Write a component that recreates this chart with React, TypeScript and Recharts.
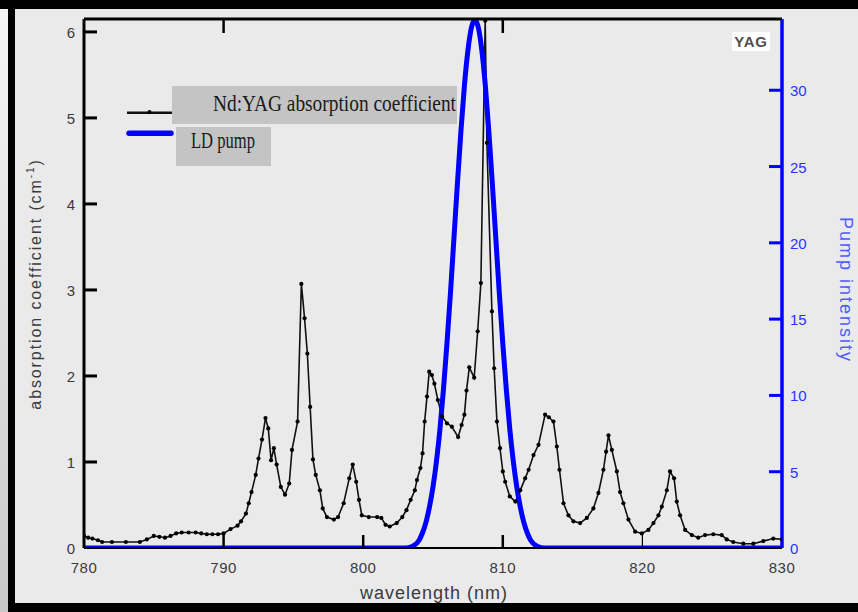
import React from 'react';
import { ComposedChart, Line, XAxis, YAxis } from 'recharts';

// Nd:YAG absorption coefficient (cm^-1) vs wavelength (nm)
const absWavelength = [
  780.0, 780.3, 780.6, 781.0, 781.3, 782.0, 783.0, 784.0, 784.5, 785.0,
  785.4, 785.8, 786.2, 786.6, 787.0, 787.5, 788.0, 788.4, 788.8, 789.2,
  789.6, 790.0, 790.5, 791.0, 791.25, 791.6, 791.8, 792.0, 792.3, 792.5,
  792.75, 793.0, 793.2, 793.4, 793.6, 793.8, 794.1, 794.4, 794.7, 794.9,
  795.3, 795.57, 795.8, 796.0, 796.2, 796.4, 796.6, 796.9, 797.1, 797.4,
  797.9, 798.2, 798.6, 799.0, 799.25, 799.5, 799.7, 799.9, 800.4, 801.0,
  801.3, 801.6, 801.9, 802.4, 802.8, 803.1, 803.4, 803.7, 803.85, 804.1,
  804.25, 804.4, 804.57, 804.73, 804.92, 805.1, 805.35, 805.65, 806.0, 806.35,
  806.8, 807.05, 807.25, 807.4, 807.6, 807.95, 808.2, 808.43, 808.74, 808.86,
  809.22, 809.38, 809.58, 809.8, 810.0, 810.17, 810.5, 810.9, 811.25, 811.6,
  811.85, 812.2, 812.56, 813.03, 813.3, 813.63, 813.87, 814.06, 814.35, 814.7,
  815.06, 815.54, 816.02, 816.49, 816.85, 817.21, 817.4, 817.57, 817.81, 818.17,
  818.4, 818.64, 819.0, 819.48, 819.96, 820.43, 820.79, 821.15, 821.39, 821.75,
  821.98, 822.27, 822.46, 822.7, 823.06, 823.54, 824.0, 824.49, 825.08, 825.68,
  826.04, 826.51, 827.23, 827.95, 828.66, 829.38, 830.0,
];
const absCoefficient = [
  0.14, 0.12, 0.11, 0.09, 0.07, 0.07, 0.07, 0.07, 0.10, 0.14,
  0.13, 0.12, 0.14, 0.17, 0.18, 0.18, 0.18, 0.17, 0.16, 0.16,
  0.16, 0.17, 0.22, 0.26, 0.31, 0.40, 0.52, 0.65, 0.85, 1.04,
  1.26, 1.51, 1.39, 1.02, 1.16, 0.97, 0.71, 0.62, 0.75, 1.14,
  1.47, 3.07, 2.67, 2.26, 1.64, 1.03, 0.85, 0.67, 0.46, 0.36,
  0.33, 0.36, 0.52, 0.81, 0.97, 0.77, 0.56, 0.38, 0.36, 0.36,
  0.35, 0.27, 0.25, 0.29, 0.36, 0.44, 0.56, 0.67, 0.79, 0.93,
  1.10, 1.47, 1.76, 2.05, 2.01, 1.91, 1.72, 1.53, 1.45, 1.41,
  1.29, 1.43, 1.55, 1.83, 2.10, 1.98, 2.52, 3.08, 6.13, 4.71,
  2.75, 2.09, 1.47, 1.16, 0.89, 0.77, 0.60, 0.54, 0.67, 0.81,
  0.91, 1.08, 1.20, 1.55, 1.52, 1.47, 1.18, 0.91, 0.52, 0.38,
  0.31, 0.29, 0.35, 0.46, 0.64, 0.91, 1.12, 1.31, 1.14, 0.89,
  0.65, 0.52, 0.33, 0.19, 0.17, 0.21, 0.29, 0.38, 0.48, 0.67,
  0.89, 0.81, 0.54, 0.38, 0.21, 0.15, 0.12, 0.15, 0.16, 0.15,
  0.10, 0.07, 0.05, 0.05, 0.08, 0.11, 0.10,
];

// LD pump intensity vs wavelength (nm)
const pumpWavelength = [
  780, 803.0, 803.5, 804.0, 804.25, 804.5, 804.75, 805.0, 805.25, 805.5,
  805.75, 806.0, 806.25, 806.5, 806.75, 807.0, 807.25, 807.5, 807.75, 808.0,
  808.25, 808.5, 808.75, 809.0, 809.25, 809.5, 809.75, 810.0, 810.25, 810.5,
  810.75, 811.0, 811.25, 811.5, 811.75, 812.0, 812.5, 813.0, 830,
];
const pumpIntensity = [
  0, 0, 0.1, 0.5, 1.0, 1.7, 2.7, 4.0, 5.7, 7.8,
  10.4, 13.4, 16.7, 20.3, 23.9, 27.3, 30.3, 32.6, 34.1, 34.6,
  34.1, 32.6, 30.3, 27.3, 23.9, 20.3, 16.7, 13.4, 10.4, 7.8,
  5.7, 4.0, 2.7, 1.7, 1.0, 0.5, 0.1, 0, 0,
];

const xTicks = [780, 790, 800, 810, 820, 830];
const topTicks = [790, 810];
const leftTicks = [0, 1, 2, 3, 4, 5, 6];
const rightTicks = [0, 5, 10, 15, 20, 25, 30];

const absData = absWavelength.map((x, i) => ({ x, abs: absCoefficient[i] }));
const pumpData = pumpWavelength.map((x, i) => ({ x, pump: pumpIntensity[i] }));

const SANS = '"Liberation Sans", Arial, sans-serif';
const SERIF = '"Liberation Serif", "Times New Roman", serif';

const BottomTick = (props: any) => {
  const { x, y, payload } = props;
  const v = payload.value;
  const inner = v > 780 && v < 830;
  return (
    <g>
      {inner && (
        <line x1={x} x2={x} y1={y} y2={y - 13} stroke="#000" strokeWidth={v === 820 ? 1.2 : 2.5} />
      )}
      <text x={x} y={y + 25} textAnchor="middle" fill="#3a3a3a" fontSize={15} fontFamily={SANS} letterSpacing={0.5}>
        {v}
      </text>
    </g>
  );
};

const TopTick = (props: any) => {
  const { x, y } = props;
  return <line x1={x} x2={x} y1={y} y2={y + 14} stroke="#000" strokeWidth={2.5} />;
};

const LeftTick = (props: any) => {
  const { x, y, payload } = props;
  const v = payload.value;
  return (
    <g>
      {v > 0 && <line x1={x} x2={x + 13} y1={y} y2={y} stroke="#000" strokeWidth={3} />}
      <text x={x - 9} y={y + 6} textAnchor="end" fill="#3a3a3a" fontSize={15} fontFamily={SANS}>
        {v}
      </text>
    </g>
  );
};

const RightTick = (props: any) => {
  const { x, y, payload } = props;
  const v = payload.value;
  return (
    <g>
      {v > 0 && <line x1={x} x2={x - 13} y1={y} y2={y} stroke="#0000ff" strokeWidth={3} />}
      <text x={x + 8} y={y + 6} textAnchor="start" fill="#2f2fff" fontSize={15} fontFamily={SANS}>
        {v}
      </text>
    </g>
  );
};

export default function App() {
  return (
    <div
      style={{
        position: 'absolute',
        left: 0,
        top: 0,
        width: 858,
        height: 612,
        background: '#eaeaea',
        overflow: 'hidden',
      }}
    >
      <div style={{ position: 'absolute', left: 0, top: 0 }}>
        <ComposedChart width={858} height={612} margin={{ top: 18, right: 36, bottom: 34, left: 40 }}>
          <XAxis
            xAxisId="bottom"
            dataKey="x"
            type="number"
            domain={[780, 830]}
            ticks={xTicks}
            orientation="bottom"
            height={30}
            tickSize={0}
            tickMargin={0}
            axisLine={{ stroke: '#000', strokeWidth: 2 }}
            tickLine={false}
            tick={BottomTick}
            allowDataOverflow
            interval={0}
          />
          <XAxis
            xAxisId="top"
            dataKey="x"
            type="number"
            domain={[780, 830]}
            ticks={topTicks}
            orientation="top"
            height={1}
            tickSize={0}
            tickMargin={0}
            axisLine={{ stroke: '#000', strokeWidth: 3 }}
            tickLine={false}
            tick={TopTick}
            allowDataOverflow
            interval={0}
          />
          <YAxis
            yAxisId="left"
            orientation="left"
            type="number"
            domain={[0, 6.15]}
            ticks={leftTicks}
            width={44}
            tickSize={0}
            tickMargin={0}
            axisLine={{ stroke: '#000', strokeWidth: 3 }}
            tickLine={false}
            tick={LeftTick}
            allowDataOverflow
            interval={0}
          />
          <YAxis
            yAxisId="right"
            orientation="right"
            type="number"
            domain={[0, 34.67]}
            ticks={rightTicks}
            width={40}
            tickSize={0}
            tickMargin={0}
            axisLine={{ stroke: '#0000ff', strokeWidth: 3.5 }}
            tickLine={false}
            tick={RightTick}
            allowDataOverflow
            interval={0}
          />
          <Line
            xAxisId="bottom"
            yAxisId="left"
            data={absData}
            dataKey="abs"
            type="linear"
            stroke="#111"
            strokeWidth={1.6}
            dot={{ r: 2.1, fill: '#000', stroke: 'none' }}
            isAnimationActive={false}
          />
          <Line
            xAxisId="bottom"
            yAxisId="right"
            data={pumpData}
            dataKey="pump"
            type="monotone"
            stroke="#0000ff"
            strokeWidth={5}
            dot={false}
            isAnimationActive={false}
          />
        </ComposedChart>
      </div>

      <svg
        width={858}
        height={612}
        style={{ position: 'absolute', left: 0, top: 0, pointerEvents: 'none' }}
      >
        <defs>
          <linearGradient id="shade" x1="0" y1="0" x2="0" y2="1">
            <stop offset="0" stopColor="#f6f6f6" />
            <stop offset="1" stopColor="#c8c8c8" />
          </linearGradient>
        </defs>
        {/* frame */}
        <rect x={0} y={0} width={8} height={612} fill="url(#shade)" />
        <rect x={0} y={0} width={858} height={9} fill="#000" />
        <rect x={8} y={0} width={7} height={612} fill="#000" />
        <rect x={8} y={603} width={850} height={9} fill="#000" />

        {/* axis titles */}
        <text
          transform="translate(41,284) rotate(-90)"
          textAnchor="middle"
          fill="#3a3a3a"
          fontSize={16}
          fontFamily={SANS}
          letterSpacing={1.9}
        >
          absorption coefficient  (cm
          <tspan fontSize={10} dy={-7}>-1</tspan>
          <tspan dy={7}>)</tspan>
        </text>
        <text
          transform="translate(840,290) rotate(90)"
          textAnchor="middle"
          fill="#4f5cff"
          fontSize={18}
          fontFamily={SANS}
          letterSpacing={2}
        >
          Pump intensity
        </text>
        <text
          x={434}
          y={599}
          textAnchor="middle"
          fill="#3a3a3a"
          fontSize={18}
          fontFamily={SANS}
          letterSpacing={1}
        >
          wavelength (nm)
        </text>

        {/* legend */}
        <rect x={172} y={86} width={285} height={38} fill="#c4c4c4" />
        <rect x={176} y={127} width={95} height={39} fill="#c4c4c4" />
        <line x1={127} x2={172} y1={112.7} y2={112.7} stroke="#111" strokeWidth={2.5} />
        <circle cx={149.5} cy={112} r={2} fill="#000" />
        <line x1={129} x2={171} y1={133.3} y2={133.3} stroke="#0000ff" strokeWidth={5.5} strokeLinecap="round" />
        <text
          x={213}
          y={110.5}
          fill="#1a1a1a"
          fontSize={24}
          fontFamily={SERIF}
          textLength={243}
          lengthAdjust="spacingAndGlyphs"
        >
          Nd:YAG absorption coefficient
        </text>
        <text
          x={191}
          y={148}
          fill="#1a1a1a"
          fontSize={24}
          fontFamily={SERIF}
          textLength={64}
          lengthAdjust="spacingAndGlyphs"
        >
          LD pump
        </text>

        {/* YAG tag */}
        <rect x={732} y={32} width={38} height={19} fill="#ffffff" />
        <text
          x={751}
          y={47.3}
          textAnchor="middle"
          fill="#505050"
          fontSize={15}
          fontWeight="bold"
          fontFamily={SANS}
          letterSpacing={0.8}
        >
          YAG
        </text>
      </svg>
    </div>
  );
}
